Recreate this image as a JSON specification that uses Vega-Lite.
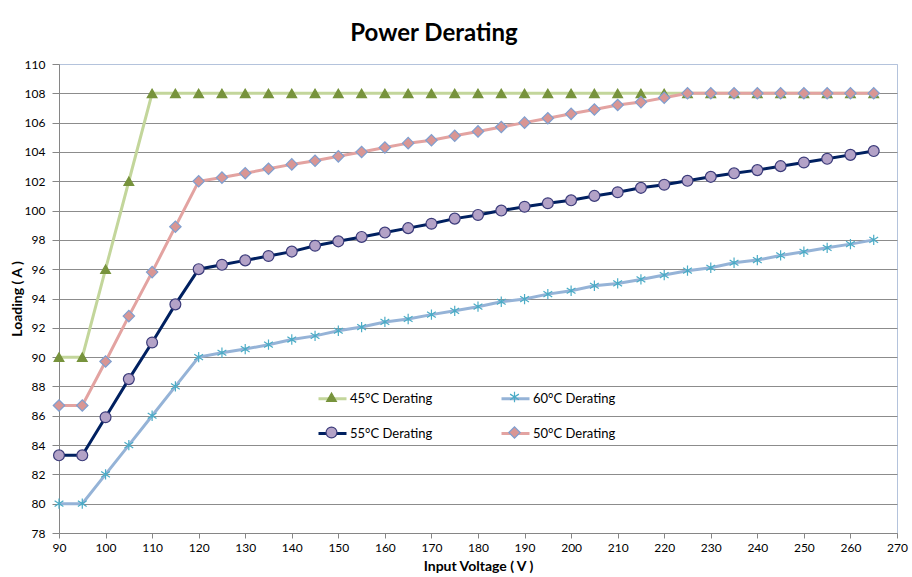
{
  "$schema": "https://vega.github.io/schema/vega-lite/v6.json",
  "width": 838,
  "height": 469,
  "autosize": {"type": "none"},
  "padding": {"left": 59, "top": 64, "right": 15, "bottom": 44},
  "background": "white",
  "title": {"text": "Power Derating", "fontSize": 24, "font": "Lato", "fontWeight": "bold", "color": "#000000", "anchor": "middle", "dx": -44, "offset": 12},
  "config": {
    "font": "Lato",
    "view": {"stroke": "#B4C3DC", "strokeWidth": 1},
    "axis": {"labelFont": "Lato", "labelFontSize": 12, "labelColor": "#000000", "titleFont": "Lato", "titleFontSize": 14, "titleFontWeight": "bold", "titleColor": "#000000", "domainColor": "#868686", "tickColor": "#868686", "domainWidth": 1, "tickWidth": 1}
  },
  "data": {"values": [
    {"s": "45°C Derating", "o": 1, "v": 90, "a": 90},
    {"s": "45°C Derating", "o": 1, "v": 95, "a": 90},
    {"s": "45°C Derating", "o": 1, "v": 100, "a": 96},
    {"s": "45°C Derating", "o": 1, "v": 105, "a": 102},
    {"s": "45°C Derating", "o": 1, "v": 110, "a": 108},
    {"s": "45°C Derating", "o": 1, "v": 115, "a": 108},
    {"s": "45°C Derating", "o": 1, "v": 120, "a": 108},
    {"s": "45°C Derating", "o": 1, "v": 125, "a": 108},
    {"s": "45°C Derating", "o": 1, "v": 130, "a": 108},
    {"s": "45°C Derating", "o": 1, "v": 135, "a": 108},
    {"s": "45°C Derating", "o": 1, "v": 140, "a": 108},
    {"s": "45°C Derating", "o": 1, "v": 145, "a": 108},
    {"s": "45°C Derating", "o": 1, "v": 150, "a": 108},
    {"s": "45°C Derating", "o": 1, "v": 155, "a": 108},
    {"s": "45°C Derating", "o": 1, "v": 160, "a": 108},
    {"s": "45°C Derating", "o": 1, "v": 165, "a": 108},
    {"s": "45°C Derating", "o": 1, "v": 170, "a": 108},
    {"s": "45°C Derating", "o": 1, "v": 175, "a": 108},
    {"s": "45°C Derating", "o": 1, "v": 180, "a": 108},
    {"s": "45°C Derating", "o": 1, "v": 185, "a": 108},
    {"s": "45°C Derating", "o": 1, "v": 190, "a": 108},
    {"s": "45°C Derating", "o": 1, "v": 195, "a": 108},
    {"s": "45°C Derating", "o": 1, "v": 200, "a": 108},
    {"s": "45°C Derating", "o": 1, "v": 205, "a": 108},
    {"s": "45°C Derating", "o": 1, "v": 210, "a": 108},
    {"s": "45°C Derating", "o": 1, "v": 215, "a": 108},
    {"s": "45°C Derating", "o": 1, "v": 220, "a": 108},
    {"s": "45°C Derating", "o": 1, "v": 225, "a": 108},
    {"s": "45°C Derating", "o": 1, "v": 230, "a": 108},
    {"s": "45°C Derating", "o": 1, "v": 235, "a": 108},
    {"s": "45°C Derating", "o": 1, "v": 240, "a": 108},
    {"s": "45°C Derating", "o": 1, "v": 245, "a": 108},
    {"s": "45°C Derating", "o": 1, "v": 250, "a": 108},
    {"s": "45°C Derating", "o": 1, "v": 255, "a": 108},
    {"s": "45°C Derating", "o": 1, "v": 260, "a": 108},
    {"s": "45°C Derating", "o": 1, "v": 265, "a": 108},
    {"s": "60°C Derating", "o": 2, "v": 90, "a": 80},
    {"s": "60°C Derating", "o": 2, "v": 95, "a": 80},
    {"s": "60°C Derating", "o": 2, "v": 100, "a": 82},
    {"s": "60°C Derating", "o": 2, "v": 105, "a": 84},
    {"s": "60°C Derating", "o": 2, "v": 110, "a": 86},
    {"s": "60°C Derating", "o": 2, "v": 115, "a": 88},
    {"s": "60°C Derating", "o": 2, "v": 120, "a": 90},
    {"s": "60°C Derating", "o": 2, "v": 125, "a": 90.3},
    {"s": "60°C Derating", "o": 2, "v": 130, "a": 90.55},
    {"s": "60°C Derating", "o": 2, "v": 135, "a": 90.85},
    {"s": "60°C Derating", "o": 2, "v": 140, "a": 91.2},
    {"s": "60°C Derating", "o": 2, "v": 145, "a": 91.45},
    {"s": "60°C Derating", "o": 2, "v": 150, "a": 91.8},
    {"s": "60°C Derating", "o": 2, "v": 155, "a": 92.05},
    {"s": "60°C Derating", "o": 2, "v": 160, "a": 92.4},
    {"s": "60°C Derating", "o": 2, "v": 165, "a": 92.6},
    {"s": "60°C Derating", "o": 2, "v": 170, "a": 92.9},
    {"s": "60°C Derating", "o": 2, "v": 175, "a": 93.16},
    {"s": "60°C Derating", "o": 2, "v": 180, "a": 93.44},
    {"s": "60°C Derating", "o": 2, "v": 185, "a": 93.78},
    {"s": "60°C Derating", "o": 2, "v": 190, "a": 93.96},
    {"s": "60°C Derating", "o": 2, "v": 195, "a": 94.3},
    {"s": "60°C Derating", "o": 2, "v": 200, "a": 94.53},
    {"s": "60°C Derating", "o": 2, "v": 205, "a": 94.87},
    {"s": "60°C Derating", "o": 2, "v": 210, "a": 95.03},
    {"s": "60°C Derating", "o": 2, "v": 215, "a": 95.3},
    {"s": "60°C Derating", "o": 2, "v": 220, "a": 95.6},
    {"s": "60°C Derating", "o": 2, "v": 225, "a": 95.9},
    {"s": "60°C Derating", "o": 2, "v": 230, "a": 96.1},
    {"s": "60°C Derating", "o": 2, "v": 235, "a": 96.44},
    {"s": "60°C Derating", "o": 2, "v": 240, "a": 96.62},
    {"s": "60°C Derating", "o": 2, "v": 245, "a": 96.94},
    {"s": "60°C Derating", "o": 2, "v": 250, "a": 97.19},
    {"s": "60°C Derating", "o": 2, "v": 255, "a": 97.46},
    {"s": "60°C Derating", "o": 2, "v": 260, "a": 97.71},
    {"s": "60°C Derating", "o": 2, "v": 265, "a": 98},
    {"s": "55°C Derating", "o": 3, "v": 90, "a": 83.3},
    {"s": "55°C Derating", "o": 3, "v": 95, "a": 83.3},
    {"s": "55°C Derating", "o": 3, "v": 100, "a": 85.9},
    {"s": "55°C Derating", "o": 3, "v": 105, "a": 88.5},
    {"s": "55°C Derating", "o": 3, "v": 110, "a": 91},
    {"s": "55°C Derating", "o": 3, "v": 115, "a": 93.6},
    {"s": "55°C Derating", "o": 3, "v": 120, "a": 96},
    {"s": "55°C Derating", "o": 3, "v": 125, "a": 96.3},
    {"s": "55°C Derating", "o": 3, "v": 130, "a": 96.6},
    {"s": "55°C Derating", "o": 3, "v": 135, "a": 96.9},
    {"s": "55°C Derating", "o": 3, "v": 140, "a": 97.2},
    {"s": "55°C Derating", "o": 3, "v": 145, "a": 97.6},
    {"s": "55°C Derating", "o": 3, "v": 150, "a": 97.9},
    {"s": "55°C Derating", "o": 3, "v": 155, "a": 98.2},
    {"s": "55°C Derating", "o": 3, "v": 160, "a": 98.5},
    {"s": "55°C Derating", "o": 3, "v": 165, "a": 98.8},
    {"s": "55°C Derating", "o": 3, "v": 170, "a": 99.1},
    {"s": "55°C Derating", "o": 3, "v": 175, "a": 99.45},
    {"s": "55°C Derating", "o": 3, "v": 180, "a": 99.7},
    {"s": "55°C Derating", "o": 3, "v": 185, "a": 100},
    {"s": "55°C Derating", "o": 3, "v": 190, "a": 100.26},
    {"s": "55°C Derating", "o": 3, "v": 195, "a": 100.5},
    {"s": "55°C Derating", "o": 3, "v": 200, "a": 100.7},
    {"s": "55°C Derating", "o": 3, "v": 205, "a": 101},
    {"s": "55°C Derating", "o": 3, "v": 210, "a": 101.25},
    {"s": "55°C Derating", "o": 3, "v": 215, "a": 101.55},
    {"s": "55°C Derating", "o": 3, "v": 220, "a": 101.76},
    {"s": "55°C Derating", "o": 3, "v": 225, "a": 102.03},
    {"s": "55°C Derating", "o": 3, "v": 230, "a": 102.3},
    {"s": "55°C Derating", "o": 3, "v": 235, "a": 102.54},
    {"s": "55°C Derating", "o": 3, "v": 240, "a": 102.76},
    {"s": "55°C Derating", "o": 3, "v": 245, "a": 103.03},
    {"s": "55°C Derating", "o": 3, "v": 250, "a": 103.28},
    {"s": "55°C Derating", "o": 3, "v": 255, "a": 103.53},
    {"s": "55°C Derating", "o": 3, "v": 260, "a": 103.8},
    {"s": "55°C Derating", "o": 3, "v": 265, "a": 104.06},
    {"s": "50°C Derating", "o": 4, "v": 90, "a": 86.7},
    {"s": "50°C Derating", "o": 4, "v": 95, "a": 86.7},
    {"s": "50°C Derating", "o": 4, "v": 100, "a": 89.7},
    {"s": "50°C Derating", "o": 4, "v": 105, "a": 92.8},
    {"s": "50°C Derating", "o": 4, "v": 110, "a": 95.8},
    {"s": "50°C Derating", "o": 4, "v": 115, "a": 98.9},
    {"s": "50°C Derating", "o": 4, "v": 120, "a": 102},
    {"s": "50°C Derating", "o": 4, "v": 125, "a": 102.25},
    {"s": "50°C Derating", "o": 4, "v": 130, "a": 102.55},
    {"s": "50°C Derating", "o": 4, "v": 135, "a": 102.85},
    {"s": "50°C Derating", "o": 4, "v": 140, "a": 103.15},
    {"s": "50°C Derating", "o": 4, "v": 145, "a": 103.4},
    {"s": "50°C Derating", "o": 4, "v": 150, "a": 103.7},
    {"s": "50°C Derating", "o": 4, "v": 155, "a": 104},
    {"s": "50°C Derating", "o": 4, "v": 160, "a": 104.3},
    {"s": "50°C Derating", "o": 4, "v": 165, "a": 104.6},
    {"s": "50°C Derating", "o": 4, "v": 170, "a": 104.8},
    {"s": "50°C Derating", "o": 4, "v": 175, "a": 105.1},
    {"s": "50°C Derating", "o": 4, "v": 180, "a": 105.4},
    {"s": "50°C Derating", "o": 4, "v": 185, "a": 105.7},
    {"s": "50°C Derating", "o": 4, "v": 190, "a": 106},
    {"s": "50°C Derating", "o": 4, "v": 195, "a": 106.3},
    {"s": "50°C Derating", "o": 4, "v": 200, "a": 106.6},
    {"s": "50°C Derating", "o": 4, "v": 205, "a": 106.9},
    {"s": "50°C Derating", "o": 4, "v": 210, "a": 107.2},
    {"s": "50°C Derating", "o": 4, "v": 215, "a": 107.4},
    {"s": "50°C Derating", "o": 4, "v": 220, "a": 107.7},
    {"s": "50°C Derating", "o": 4, "v": 225, "a": 108},
    {"s": "50°C Derating", "o": 4, "v": 230, "a": 108},
    {"s": "50°C Derating", "o": 4, "v": 235, "a": 108},
    {"s": "50°C Derating", "o": 4, "v": 240, "a": 108},
    {"s": "50°C Derating", "o": 4, "v": 245, "a": 108},
    {"s": "50°C Derating", "o": 4, "v": 250, "a": 108},
    {"s": "50°C Derating", "o": 4, "v": 255, "a": 108},
    {"s": "50°C Derating", "o": 4, "v": 260, "a": 108},
    {"s": "50°C Derating", "o": 4, "v": 265, "a": 108}
  ]},
  "encoding": {
    "x": {"field": "v", "type": "quantitative", "scale": {"domain": [90, 270], "nice": false, "zero": false},
      "axis": {"title": "Input Voltage ( V )", "values": [90, 100, 110, 120, 130, 140, 150, 160, 170, 180, 190, 200, 210, 220, 230, 240, 250, 260, 270], "grid": false, "tickSize": 5, "labelPadding": 4, "titlePadding": 6, "labelFlush": false}},
    "y": {"field": "a", "type": "quantitative", "scale": {"domain": [78, 110], "nice": false, "zero": false},
      "axis": {"title": "Loading ( A )", "values": [78, 80, 82, 84, 86, 88, 90, 92, 94, 96, 98, 100, 102, 104, 106, 108, 110], "grid": true,
        "gridColor": {"condition": {"test": "datum.value == 110", "value": "#B4C3DC"}, "value": "#8C8C8C"},
        "gridWidth": 1, "tickSize": 7, "labelPadding": 7, "titlePadding": 0, "labelFlush": false}}
  },
  "layer": [
    {
      "mark": {"type": "line", "strokeWidth": 3},
      "encoding": {
        "color": {"field": "s", "type": "nominal",
          "scale": {"domain": ["45°C Derating", "60°C Derating", "55°C Derating", "50°C Derating"], "range": ["#C3D69B", "#95B3D7", "#002060", "#E3A3A1"]},
          "legend": {"orient": "none", "direction": "horizontal", "legendX": 258, "legendY": 319, "columns": 2, "columnPadding": 62, "rowPadding": 12, "symbolType": "stroke", "symbolSize": 784, "symbolStrokeWidth": 3, "labelFontSize": 13, "labelFont": "Lato", "labelColor": "#000000", "labelOffset": 2, "title": null}}
      }
    },
    {
      "mark": {"type": "point", "filled": true, "opacity": 1, "strokeWidth": 1.2},
      "encoding": {
        "fill": {"field": "s", "type": "nominal", "sort": {"field": "o", "op": "min"},
          "scale": {"range": ["#77933C", "#4BACC6", "#B3A2C7", "#D99694"]},
          "legend": {"orient": "none", "direction": "horizontal", "legendX": 266, "legendY": 326, "columns": 2, "columnPadding": 155, "rowPadding": 19, "labelFontSize": 13, "labelFont": "Lato", "labelExpr": "''", "labelOffset": 13, "symbolStrokeWidth": 1.2, "symbolOpacity": 1, "title": null}},
        "stroke": {"field": "s", "type": "nominal", "sort": {"field": "o", "op": "min"},
          "scale": {"range": ["#77933C", "#4BACC6", "#3B3B7A", "#7F9FD0"]}},
        "shape": {"field": "s", "type": "nominal", "sort": {"field": "o", "op": "min"},
          "scale": {"range": ["triangle-up", "M0,-1L0,1M-0.85,-0.55L0.85,0.55M-0.85,0.55L0.85,-0.55", "circle", "diamond"]}},
        "size": {"field": "s", "type": "nominal", "sort": {"field": "o", "op": "min"},
          "scale": {"range": [95, 130, 85, 70]}}
      }
    }
  ]
}
